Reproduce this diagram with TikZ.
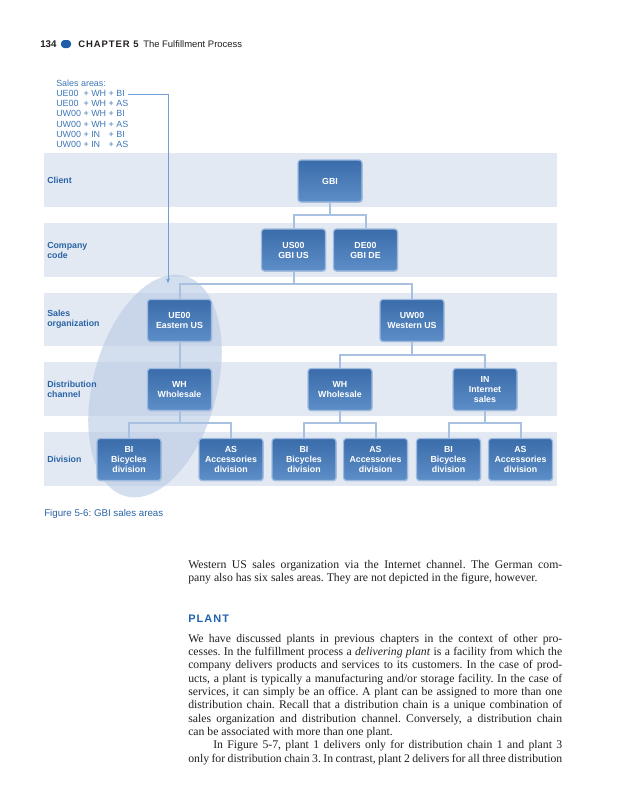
\documentclass[tikz,border=0pt]{standalone}
\usepackage{fontspec}
\setmainfont{Liberation Serif}
\setsansfont{Liberation Sans}
\newfontfamily\hsans{Liberation Sans}
\newfontfamily\spacedsans[LetterSpace=10]{Liberation Sans}
\usetikzlibrary{shadows,arrows.meta}
\definecolor{band}{HTML}{E3E9F3}
\definecolor{lblblue}{HTML}{2A64A6}
\definecolor{sablue}{HTML}{3F77B8}
\definecolor{boxtop}{HTML}{3A6CAA}
\definecolor{boxbot}{HTML}{5D8EC8}
\definecolor{boxedge}{HTML}{9DBBE0}
\definecolor{connblue}{HTML}{A9C1E0}
\definecolor{ellfill}{HTML}{BCCDE6}
\definecolor{hdrblue}{HTML}{1E5EA8}
\definecolor{salineblue}{HTML}{6E9ED3}
\definecolor{plantblue}{HTML}{2163AE}
\definecolor{inkgray}{HTML}{231F20}
\tikzset{
  bandrow/.style={fill=band, draw=none},
  lbl/.style={anchor=west, inner sep=0pt, text=lblblue, align=left,
    font=\hsans\bfseries\fontsize{6.6}{7.5}\selectfont},
  orgbox/.style={rounded corners=2.2pt, minimum width=48pt, minimum height=31.5pt,
    inner sep=0pt, top color=boxtop, bottom color=boxbot, draw=boxedge,
    line width=0.9pt, text=white, align=center,
    font=\hsans\bfseries\fontsize{6.6}{7.5}\selectfont,
    drop shadow={opacity=0.25, shadow xshift=0.6pt, shadow yshift=-0.6pt}},
  conn/.style={draw=connblue, line width=1.5pt},
  saline/.style={draw=salineblue, line width=0.6pt},
  bodytext/.style={anchor=base west, inner sep=0pt, text=inkgray},
}
\begin{document}
\frenchspacing
\begin{tikzpicture}[x=0.75pt, y=-0.75pt]
\fill[white] (0,0) rectangle (639,800);
\useasboundingbox (0,0) rectangle (639,800);

% header
\node[anchor=base west, inner sep=0pt, text=inkgray, font=\hsans\bfseries\fontsize{7.3}{8}\selectfont] (hnum) at (40,47.5) {134};
\node[fill=hdrblue, rounded corners=2.5pt, minimum width=7.5pt, minimum height=6pt, inner sep=0pt] (hpill) at (66,44) {};
\node[anchor=base west, inner sep=0pt, text=inkgray, font=\spacedsans\bfseries\fontsize{7.1}{8}\selectfont] (hchap) at (78,47.5) {CHAPTER 5};
\node[anchor=base west, inner sep=0pt, text=inkgray, font=\hsans\fontsize{7.1}{8}\selectfont] (htitle) at (143,47.5) {The Fulfillment Process};

% sales areas list
\node[anchor=base west, inner sep=0pt, text=sablue, font=\hsans\fontsize{6.7}{7.6}\selectfont] (salist) at (56,86.5)
  {\begin{tabular}[t]{@{}l@{ }c@{ }l@{ }c@{ }l@{}}
   \multicolumn{5}{@{}l}{Sales areas:}\\
   UE00 & + & WH & + & BI\\
   UE00 & + & WH & + & AS\\
   UW00 & + & WH & + & BI\\
   UW00 & + & WH & + & AS\\
   UW00 & + & IN & + & BI\\
   UW00 & + & IN & + & AS
   \end{tabular}};

% bands
\fill[bandrow] (44,153) rectangle (557,207);
\fill[bandrow] (44,223) rectangle (557,277);
\fill[bandrow] (44,293) rectangle (557,346);
\fill[bandrow] (44,362) rectangle (557,416);
\fill[bandrow] (44,432) rectangle (557,486);

% highlighted sales area
\fill[ellfill, opacity=0.65, rotate around={-15:(155,386)}] (155,386) ellipse [x radius=62, y radius=114];

% arrow from sales areas list
\coordinate (sastart) at (128,94);
\coordinate (satip) at (168,283);
\draw[saline, -{Stealth[length=3.5pt, width=3pt]}] (sastart) -| (satip);

% boxes
\node[orgbox] (gbi) at (330,181) {GBI};
\node[orgbox] (us00) at (293.5,250) {US00\\GBI US};
\node[orgbox] (de00) at (365.5,250) {DE00\\GBI DE};
\node[orgbox] (ue00) at (179.5,320.5) {UE00\\Eastern US};
\node[orgbox] (uw00) at (412,320.5) {UW00\\Western US};
\node[orgbox] (wh1) at (179.5,389.5) {WH\\Wholesale};
\node[orgbox] (wh2) at (340,389.5) {WH\\Wholesale};
\node[orgbox] (inet) at (485,389.5) {IN\\Internet\\sales};
\node[orgbox] (bi1) at (129,459.5) {BI\\Bicycles\\division};
\node[orgbox] (as1) at (231,459.5) {AS\\Accessories\\division};
\node[orgbox] (bi2) at (304,459.5) {BI\\Bicycles\\division};
\node[orgbox] (as2) at (375.5,459.5) {AS\\Accessories\\division};
\node[orgbox] (bi3) at (448.5,459.5) {BI\\Bicycles\\division};
\node[orgbox] (as3) at (520.5,459.5) {AS\\Accessories\\division};

% connectors
\coordinate (t1) at (330,215);
\coordinate (t2) at (293.5,284);
\coordinate (t3) at (412,355);
\coordinate (t4) at (179.5,423);
\coordinate (t5) at (340,423);
\coordinate (t6) at (485,423);
\draw[conn] (gbi.south) -- (t1) -| (us00.north);
\draw[conn] (t1) -| (de00.north);
\draw[conn] (us00.south) -- (t2) -| (ue00.north);
\draw[conn] (t2) -| (uw00.north);
\draw[conn] (ue00.south) -- (wh1.north);
\draw[conn] (uw00.south) -- (t3) -| (wh2.north);
\draw[conn] (t3) -| (inet.north);
\draw[conn] (wh1.south) -- (t4) -| (bi1.north);
\draw[conn] (t4) -| (as1.north);
\draw[conn] (wh2.south) -- (t5) -| (bi2.north);
\draw[conn] (t5) -| (as2.north);
\draw[conn] (inet.south) -- (t6) -| (bi3.north);
\draw[conn] (t6) -| (as3.north);

% level labels
\node[lbl] (lclient) at (47,180) {Client};
\node[lbl] (lcomp) at (47,250) {Company\\code};
\node[lbl] (lsorg) at (47,319) {Sales\\organization};
\node[lbl] (ldist) at (47,389) {Distribution\\channel};
\node[lbl] (ldiv) at (47,459) {Division};

% caption
\node[anchor=base west, inner sep=0pt, text=lblblue, font=\hsans\fontsize{7.3}{8}\selectfont] (cap) at (44,516.5) {Figure 5-6: GBI sales areas};

% body text
\node[bodytext] (para1) at (188,568) {\parbox[t]{280.5pt}{\fontsize{8.8}{10}\selectfont
Western US sales organization via the Internet channel. The German com-\linebreak pany also has six sales areas. They are not depicted in the figure, however.}};

\node[anchor=base west, inner sep=0pt, text=plantblue, font=\spacedsans\bfseries\fontsize{8.2}{9}\selectfont] (plant) at (188,622) {PLANT};

\node[bodytext] (para2) at (188,642) {\parbox[t]{280.5pt}{\fontsize{8.8}{10}\selectfont
We have discussed plants in previous chapters in the context of other pro-\linebreak cesses. In the fulfillment process a \textit{delivering plant} is a facility from which the\linebreak company delivers products and services to its customers. In the case of prod-\linebreak ucts, a plant is typically a manufacturing and/or storage facility. In the case of\linebreak services, it can simply be an office. A plant can be assigned to more than one\linebreak distribution chain. Recall that a distribution chain is a unique combination of\linebreak sales organization and distribution channel. Conversely, a distribution chain\linebreak can be associated with more than one plant.\par
{\parfillskip=0pt\hspace*{18.75pt}In Figure 5-7, plant 1 delivers only for distribution chain 1 and plant 3\linebreak only for distribution chain 3. In contrast, plant 2 delivers for all three distribution\par}}};
\end{tikzpicture}
\end{document}
